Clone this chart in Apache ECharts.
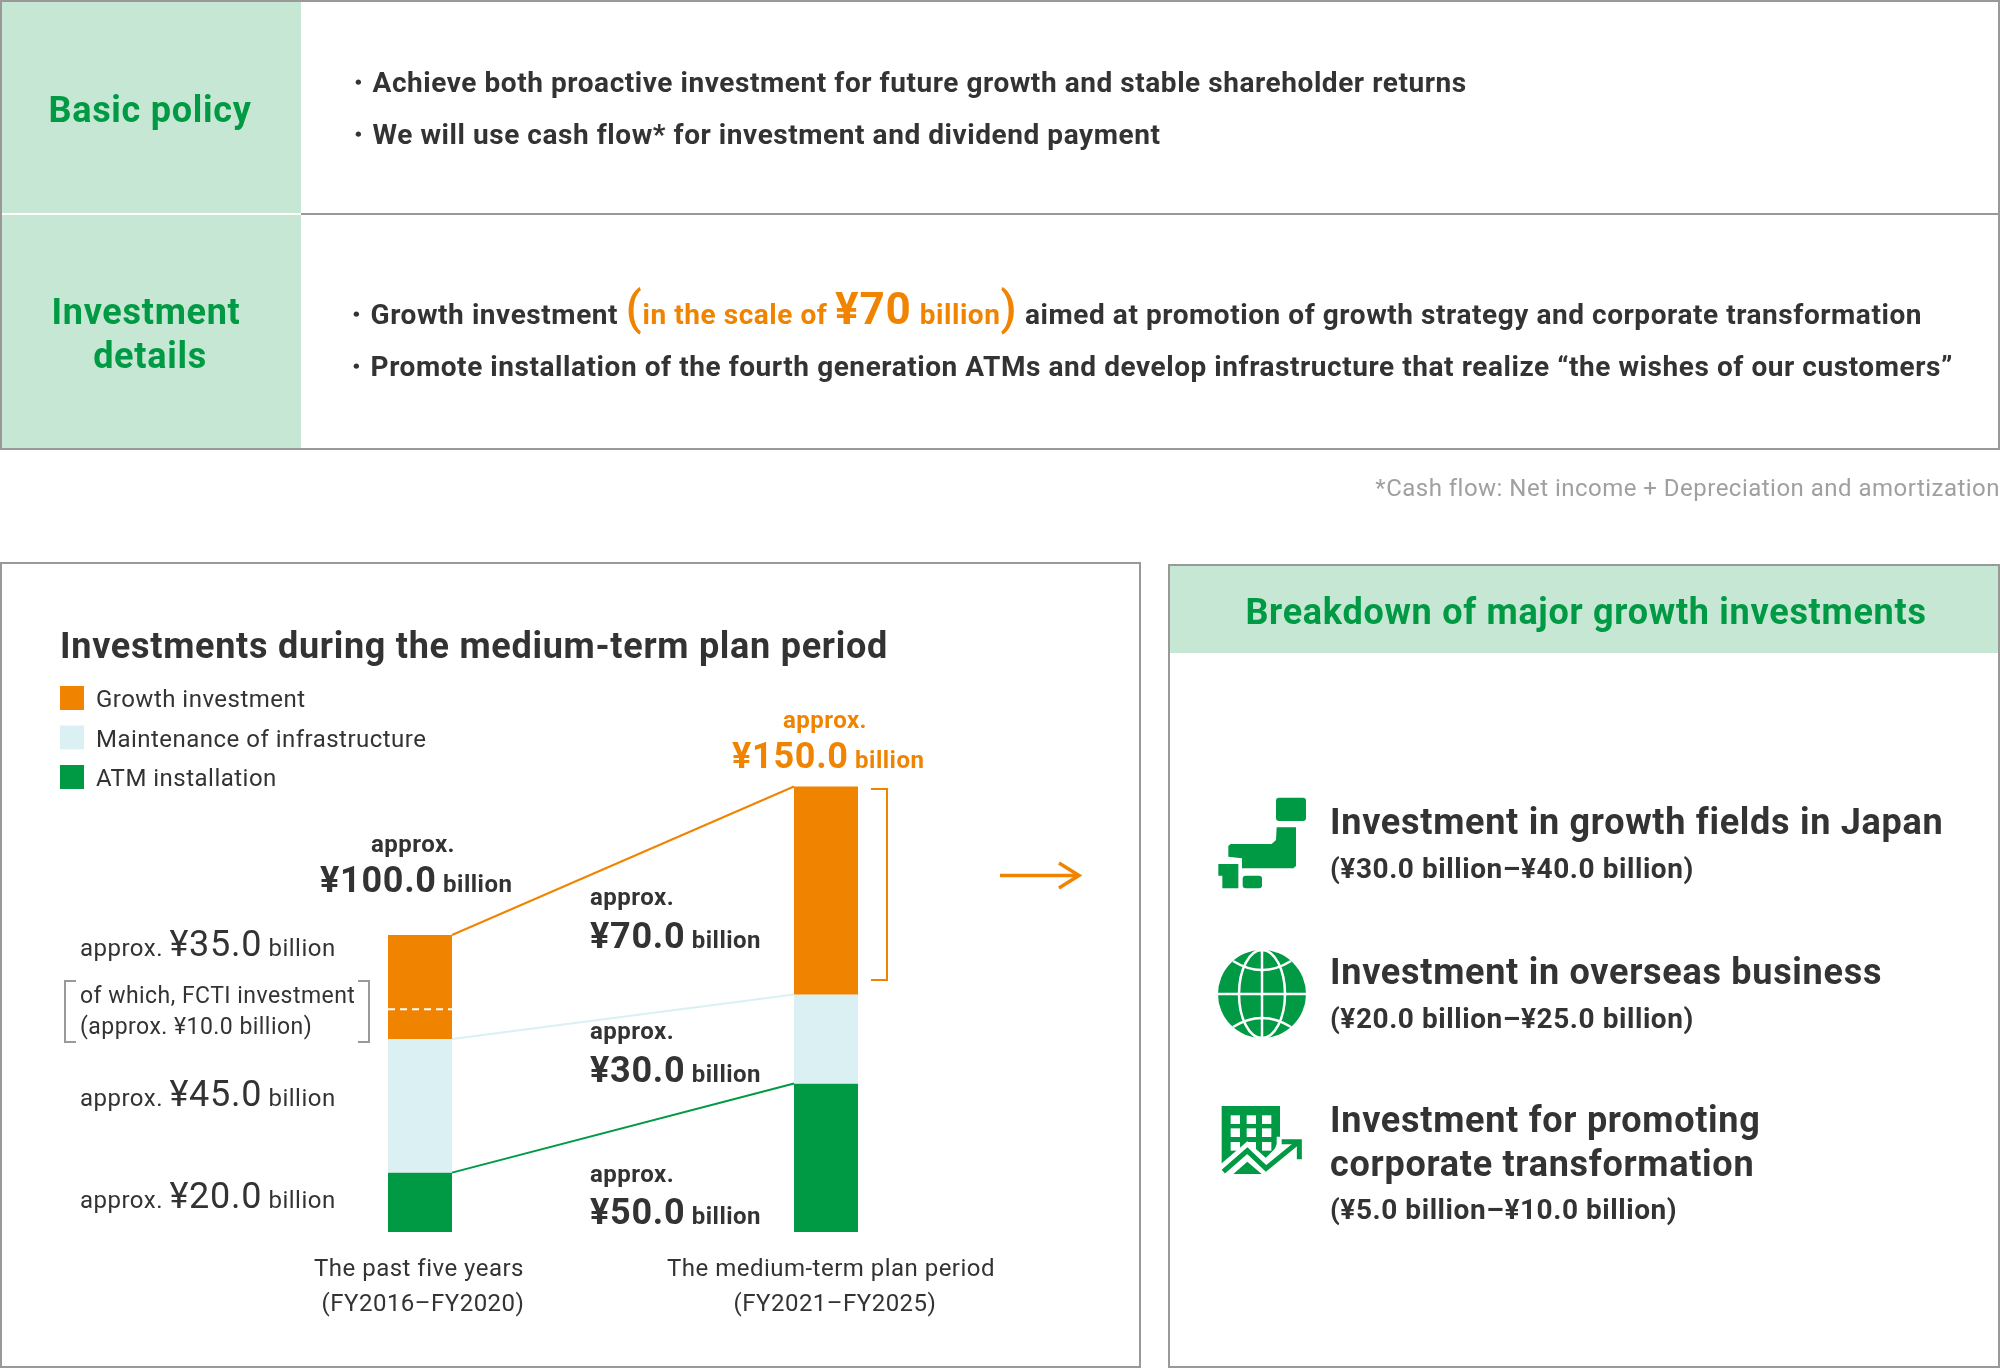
<!DOCTYPE html>
<html><head><meta charset="utf-8">
<style>html,body{margin:0;padding:0;background:#fff}#c{width:2000px;height:1369px}</style>
<script src="https://cdn.jsdelivr.net/npm/echarts@6/dist/echarts.min.js"></script>
</head><body><div id="c"></div>
<script>
const categories = ['The past five years\n(FY2016–FY2020)', 'The medium-term plan period\n(FY2021–FY2025)'];
const growth = [35, 70];
const maintenance = [45, 30];
const atm = [20, 50];
const fctiOfGrowth = 10;
const seriesNames = ['Growth investment', 'Maintenance of infrastructure', 'ATM installation'];

// The reference sets its type with a 0.02em tracking; apply it to canvas text and measurement alike.
['fillText','measureText'].forEach(m => {
  const orig = CanvasRenderingContext2D.prototype[m];
  CanvasRenderingContext2D.prototype[m] = function () {
    const px = /([\d.]+)px/.exec(this.font);
    if (px) this.letterSpacing = (parseFloat(px[1]) * 0.02) + 'px';
    return orig.apply(this, arguments);
  };
});

const GREEN = '#009944', ORANGE = '#f08300', LIGHT = '#daf0f3', PALE = '#c6e7d3', GRAY = '#999999', INK = '#333333';
const FONT = 'Roboto';
const g = [];
const yen = v => '¥' + v.toFixed(1);
function rect(x, y, w, h, fill, stroke, lw) {
  g.push({type:'rect', z:1, shape:{x, y, width:w, height:h}, style:{fill:fill||'none', stroke:stroke||'none', lineWidth:lw||0}});
}
function poly(points, stroke, lw, z) {
  g.push({type:'polyline', z:z||3, shape:{points}, style:{fill:'none', stroke, lineWidth:lw}});
}
function txt(x, y, text, size, weight, fill, align, rich) {
  g.push({type:'text', z:4, style:{x, y: rich ? y : y+3, text, fontFamily:FONT, fontSize:size, fontWeight:weight, fill, textAlign:align||'left', textVerticalAlign:'middle', rich}});
}
function tok(size, weight, fill, big) {
  const o = {fontFamily:FONT, fontSize:size, fontWeight:weight, fill, verticalAlign:'bottom', lineHeight:Math.round((big||size)*1.2)};
  if (big && big > size) o.padding = [0, 0, Math.round(0.25*(big-size)), 0];
  return o;
}

// table
rect(1, 1, 300, 212, PALE); rect(1, 215, 300, 234, PALE);
rect(1, 1, 1998, 448, null, GRAY, 2);
poly([[301,214],[1999,214]], GRAY, 2);
txt(150, 110, 'Basic policy', 36, 700, GREEN, 'center');
txt(146, 312, 'Investment', 36, 700, GREEN, 'center');
txt(150, 356, 'details', 36, 700, GREEN, 'center');
txt(344, 82, '・Achieve both proactive investment for future growth and stable shareholder returns', 28, 700, INK);
txt(344, 134, '・We will use cash flow* for investment and dividend payment', 28, 700, INK);
const P = tok(46,500,ORANGE,44); P.padding = [0,0,0,0];
const YY = tok(44,700,ORANGE,44); YY.padding = [0,8,0,0];
txt(342, 309, '{a|・Growth investment }{p|(}{o|in the scale of }{y|¥70}{o|billion}{p|)}{a| aimed at promotion of growth strategy and corporate transformation}', 28, 700, INK, 'left', {
  a:tok(28,700,INK,44), o:tok(28,700,ORANGE,44), y:YY, p:P});
txt(342, 366, '・Promote installation of the fourth generation ATMs and develop infrastructure that realize “the wishes of our customers”', 28, 700, INK);
txt(2000, 487, '*Cash flow: Net income + Depreciation and amortization', 24, 400, '#a0a0a0', 'right');

// panels
rect(1, 563, 1139, 804, null, GRAY, 2);
rect(1169, 565, 830, 88, PALE);
rect(1169, 565, 830, 802, null, GRAY, 2);
txt(60, 646, 'Investments during the medium-term plan period', 36, 700, INK);
txt(1586, 612, 'Breakdown of major growth investments', 36, 700, GREEN, 'center');

// left labels
const tot0 = growth[0]+maintenance[0]+atm[0], tot1 = growth[1]+maintenance[1]+atm[1];
const R = {s:tok(24,400,INK,36), b:tok(36,400,INK,36)};
[[944,growth[0]],[1094,maintenance[0]],[1196,atm[0]]].forEach(([y,v]) =>
  txt(80, y, `{s|approx. }{b|${yen(v)}}{s| billion}`, 24, 400, INK, 'left', R));
txt(80, 994, 'of which, FCTI investment', 23, 400, INK);
txt(80, 1025.5, `(approx. ${yen(fctiOfGrowth)} billion)`, 23, 400, INK);
poly([[76,981],[65,981],[65,1042],[76,1042]], GRAY, 2);
poly([[358,981],[369,981],[369,1042],[358,1042]], GRAY, 2);
const RB = {s:tok(24,700,INK,36), b:tok(36,700,INK,36)};
txt(413, 842.5, 'approx.', 24, 700, INK, 'center');
txt(320, 880, `{b|${yen(tot0)}}{s| billion}`, 24, 700, INK, 'left', RB);
[[895.5,936,growth[1]],[1029.5,1070,maintenance[1]],[1172.5,1212,atm[1]]].forEach(([y1,y2,v]) => {
  txt(590, y1, 'approx.', 24, 700, INK);
  txt(590, y2, `{b|${yen(v)}}{s| billion}`, 24, 700, INK, 'left', RB);
});
const RO = {s:tok(24,700,ORANGE,36), b:tok(36,700,ORANGE,36)};
txt(825, 718.5, 'approx.', 24, 700, ORANGE, 'center');
txt(732, 756, `{b|${yen(tot1)}}{s| billion}`, 24, 700, ORANGE, 'left', RO);
poly([[871,789],[887,789],[887,980],[871,980]], ORANGE, 2);
poly([[1000,875.5],[1079,875.5]], ORANGE, 3.5);
poly([[1059,863],[1079,875.5],[1059,888]], ORANGE, 3.5);

// right list
const L = 1330;
txt(L, 822, 'Investment in growth fields in Japan', 36, 700, INK);
txt(L, 868, '(¥30.0 billion–¥40.0 billion)', 28, 700, INK);
txt(L, 972, 'Investment in overseas business', 36, 700, INK);
txt(L, 1018, '(¥20.0 billion–¥25.0 billion)', 28, 700, INK);
txt(L, 1120, 'Investment for promoting', 36, 700, INK);
txt(L, 1164, 'corporate transformation', 36, 700, INK);
txt(L, 1209, '(¥5.0 billion–¥10.0 billion)', 28, 700, INK);

// icons (zoom-space helper)
const zx = p => [1160+p[0]/3, 760+p[1]/3];
function shape(pts, fill) { g.push({type:'polygon', z:3, shape:{points:pts.map(zx)}, style:{fill}}); }
function rr(x0,y0,x1,y1,r,fill) { const a=zx([x0,y0]), b=zx([x1,y1]); g.push({type:'rect', z:3, shape:{x:a[0],y:a[1],width:b[0]-a[0],height:b[1]-a[1],r}, style:{fill}}); }
rr(348,113,438,183,3,GREEN);
shape([[350,202],[408,202],[408,318],[400,325],[246,325],[246,295],[205,290],[205,258],[212,252],[335,252],[348,240]], GREEN);
shape([[175,312],[235,312],[235,385],[187,385],[187,347],[175,347]], GREEN);
rr(248,347,306,385,3,GREEN);
g.push({type:'circle', z:3, shape:{cx:1262, cy:994, r:44}, style:{fill:GREEN}});
const W = {fill:'none', stroke:'#fff', lineWidth:2.5};
g.push({type:'ellipse', z:3, shape:{cx:1262, cy:994, rx:23, ry:44}, style:W});
g.push({type:'line', z:3, shape:{x1:1262,y1:950,x2:1262,y2:1038}, style:W});
g.push({type:'line', z:3, shape:{x1:1218,y1:994,x2:1306,y2:994}, style:W});
g.push({type:'bezierCurve', z:3, shape:{x1:1233,y1:961,cpx1:1262,cpy1:979,x2:1291,y2:961}, style:W});
g.push({type:'bezierCurve', z:3, shape:{x1:1233,y1:1027,cpx1:1262,cpy1:1009,x2:1291,y2:1027}, style:W});
shape([[185,1038],[360,1038],[360,1130],[345,1165],[318,1200],[262,1150],[185,1215]], GREEN);
[212,260,306].forEach(x => [1066,1105,1146].forEach(y => rr(x,y,x+28,y+26,0,'#fff')));
poly([[180,1232],[262,1162],[318,1212],[350,1180]].map(zx), '#fff', 9);
shape([[350,1130],[375,1130],[375,1190],[350,1200]], '#fff');
poly([[190,1235],[262,1172],[318,1225],[410,1150]].map(zx), GREEN, 5);
poly([[365,1145],[418,1145],[418,1198]].map(zx), GREEN, 5);
shape([[220,1242],[262,1205],[305,1242]], GREEN);

// connectors: cumulative tops [series colour, value at each period]
const cum = (i, k) => [atm, maintenance, growth].slice(0, k+1).reduce((s,a) => s+a[i], 0);
const connectorColors = [GREEN, LIGHT, ORANGE];
const HALF = 32;
const connectorData = [0,1,2].map(k => [cum(0,k), cum(1,k), k]);

const axisTok = padding => ({fontFamily:FONT, fontSize:24, fill:INK, color:INK, lineHeight:35, padding});
const chart = echarts.init(document.getElementById('c'), null, {renderer:'canvas', width:2000, height:1369});
chart.setOption({
  animation:false,
  backgroundColor:'#fff',
  graphic:{elements:g},
  legend:{left:60, top:686, orient:'vertical', padding:0, itemWidth:24, itemHeight:24, itemGap:12, icon:'rect', selectedMode:false,
    data:seriesNames, formatter:'{a|{name}}',
    textStyle:{fontFamily:FONT, fontSize:24, color:INK,
      rich:{a:{fontFamily:FONT, fontSize:24, color:INK, lineHeight:31, verticalAlign:'bottom', padding:[0,0,0,7]}}}},
  grid:{left:217, right:2000-1029, bottom:1369-1232, top:1232-160*2.97},
  xAxis:{type:'category', data:categories, axisLine:{show:false}, axisTick:{show:false},
    axisLabel:{interval:0, fontFamily:FONT, fontSize:24, color:INK, lineHeight:35, margin:20,
      formatter:(v, i) => v.split('\n').map((l, j) => `{c${i}${j}|${l}}`).join('\n'),
      rich:{c00:axisTok([0,2,0,0]), c01:axisTok([0,0,0,6]), c10:axisTok([0,0,0,10]), c11:axisTok([0,0,0,18])}}},
  yAxis:{type:'value', min:0, max:160, show:false, splitLine:{show:false}},
  series:[
    {name:seriesNames[2], type:'bar', stack:'t', barWidth:64, data:atm, itemStyle:{color:GREEN}},
    {name:seriesNames[1], type:'bar', stack:'t', barWidth:64, data:maintenance, itemStyle:{color:LIGHT}},
    {name:seriesNames[0], type:'bar', stack:'t', barWidth:64, data:growth, itemStyle:{color:ORANGE}},
    {type:'custom', silent:true, z:5, data:connectorData, renderItem:(p, api) => {
      const a = api.coord([0, api.value(0)]), b = api.coord([1, api.value(1)]);
      return {type:'line', shape:{x1:a[0]+HALF, y1:a[1], x2:b[0]-HALF, y2:b[1]}, style:{stroke:connectorColors[api.value(2)], lineWidth:2}};
    }},
    {type:'custom', silent:true, z:5, data:[[atm[0]+maintenance[0]+fctiOfGrowth]], renderItem:(p, api) => {
      const a = api.coord([0, api.value(0)]);
      return {type:'line', shape:{x1:a[0]-HALF, y1:a[1], x2:a[0]+HALF, y2:a[1]}, style:{stroke:'#fff', lineWidth:2, lineDash:[7,5]}};
    }}
  ]
});
</script></body></html>
